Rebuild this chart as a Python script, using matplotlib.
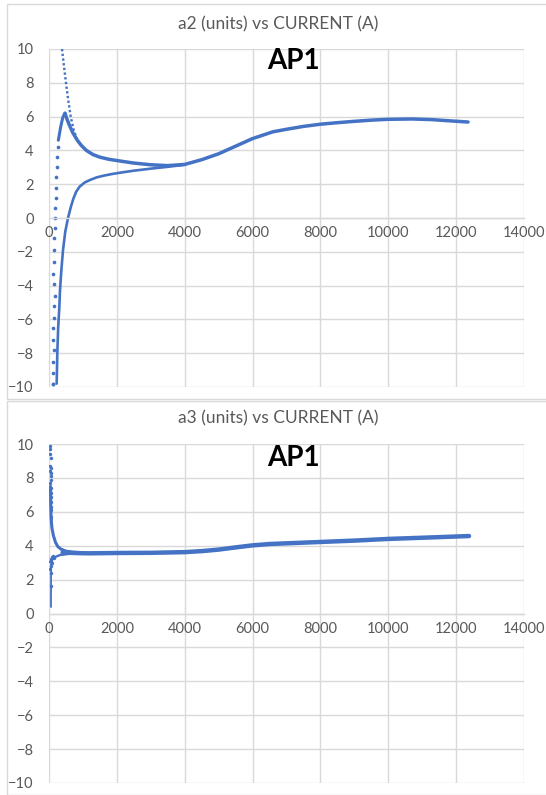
#!/usr/bin/env python3
"""
a2 / a3 vs CURRENT scatter charts (Excel-style) for AP1
"""

import numpy as np
import matplotlib
matplotlib.use("Agg")
import matplotlib.pyplot as plt
from matplotlib.patches import Rectangle

# ---- a2 data ----
# main dense curve, from the peak to the right end
a2_main_x = [472, 520, 600, 700, 835, 950, 1100, 1300, 1500, 1750, 2000, 2500, 3000,
             3500, 4000, 4500, 5000, 5500, 6000, 6600, 7000, 7500, 8000, 8500, 9000,
             9500, 10000, 10700, 11300, 11800, 12350]
a2_main_y = [6.2, 5.9, 5.5, 5.05, 4.6, 4.3, 4.0, 3.75, 3.6, 3.48, 3.4, 3.25, 3.15,
             3.1, 3.17, 3.45, 3.8, 4.25, 4.7, 5.1, 5.25, 5.42, 5.55, 5.64, 5.72,
             5.79, 5.84, 5.86, 5.82, 5.75, 5.68]
# rising side of the peak
a2_peak_x = [275, 310, 345, 400, 440, 472]
a2_peak_y = [4.6, 5.0, 5.4, 5.9, 6.1, 6.2]
# lower branch coming up from -10
a2_low_x = [226, 245, 270, 304, 324, 360, 413, 480, 560, 650, 720, 800, 900, 1050,
            1208, 1400, 1600, 1850, 2093, 2500, 3000, 3500, 4000]
a2_low_y = [-9.8, -8.0, -6.5, -5.3, -4.3, -3.2, -1.9, -0.8, 0.0, 0.7, 1.15, 1.55,
            1.85, 2.1, 2.25, 2.4, 2.5, 2.6, 2.68, 2.8, 2.92, 3.03, 3.15]
# sparse upper branch coming down from 10
a2_up_x = [383, 440, 500, 565, 640, 730, 835]
a2_up_y = [10.0, 9.0, 8.0, 7.0, 6.0, 5.2, 4.6]
# scattered points going down on the far left
a2_dots_x = [260, 240, 225, 212, 200, 192, 185, 178, 170, 160, 147, 140, 127, 160,
             177, 135, 147, 120, 127, 140, 115, 109, 127, 118]
a2_dots_y = [4.2, 3.6, 3.0, 2.4, 1.8, 1.2, 0.6, 0.0, -0.6, -1.2, -1.9, -2.6, -3.3,
             -3.9, -4.6, -5.2, -5.9, -6.5, -7.2, -7.8, -8.5, -9.2, -9.8, -9.8]

# ---- a3 data ----
a3_main_x = [400, 600, 900, 1200, 1600, 2000, 3000, 4000, 4500, 5000, 5500, 6000,
             6500, 7000, 8000, 9000, 10000, 11000, 12380]
a3_main_y = [3.6, 3.58, 3.56, 3.55, 3.56, 3.57, 3.58, 3.62, 3.68, 3.77, 3.9, 4.02,
             4.1, 4.14, 4.22, 4.3, 4.4, 4.47, 4.57]
a3_down_x = [45, 50, 60, 75, 90, 130, 190, 260, 350, 500, 700, 1000]
a3_down_y = [7.5, 6.5, 5.8, 5.3, 5.0, 4.6, 4.2, 3.95, 3.8, 3.68, 3.62, 3.58]
a3_rise_x = [30, 100, 177, 324, 600, 1000]
a3_rise_y = [3.04, 3.2, 3.33, 3.45, 3.52, 3.55]
a3_vert_x = [59, 60, 61, 62]
a3_vert_y = [0.4, 1.3, 2.2, 3.0]
a3_dots_x = [35, 42, 38, 45, 40, 48, 44, 52, 46, 55, 42, 50, 58, 47, 53, 60, 49, 56,
             40, 62, 70, 85, 100, 120, 150, 75, 95, 60, 52, 66]
a3_dots_y = [9.9, 9.7, 9.4, 9.2, 8.7, 8.6, 8.4, 8.3, 8.1, 7.9, 7.7, 7.4, 7.1, 6.9,
             6.6, 6.3, 6.1, 5.7, 2.6, 2.8, 3.1, 3.3, 3.35, 3.4, 3.3, 3.0, 3.25, 2.4,
             1.6, 3.2]

BLUE = "#4472C4"
GRID = "#D9D9D9"
TXT = "#595959"
FONT = ["Lato", "DejaVu Sans"]


def style_axes(ax):
    ax.set_xlim(0, 14000)
    ax.set_ylim(-10, 10)
    ax.set_xticks(np.arange(0, 14001, 2000))
    ax.set_yticks(np.arange(-10, 11, 2))
    ax.grid(True, color=GRID, linewidth=1)
    ax.set_axisbelow(True)
    for s in ["top", "right", "left"]:
        ax.spines[s].set_visible(False)
    ax.spines["bottom"].set_position(("data", 0))
    ax.spines["bottom"].set_color(GRID)
    ax.spines["bottom"].set_linewidth(1)
    ax.tick_params(axis="both", length=0, labelsize=10.5, labelcolor=TXT)
    ax.tick_params(axis="y", pad=11)
    ax.tick_params(axis="x", pad=6)
    for lab in ax.get_xticklabels() + ax.get_yticklabels():
        lab.set_fontfamily(FONT)


fig = plt.figure(figsize=(5.46, 7.95), dpi=100)

# chart area borders
for y0, h in [(1 - 399 / 795, 395 / 795), (0.0, 1 - 401 / 795)]:
    fig.patches.append(Rectangle((7 / 546, y0), 1.0, h, transform=fig.transFigure,
                                 fill=False, edgecolor=GRID, linewidth=1))

ax1 = fig.add_axes([49 / 546, 1 - 387 / 795, 475 / 546, 338 / 795])
ax2 = fig.add_axes([49 / 546, 1 - 783 / 795, 475 / 546, 339 / 795])

# a2
style_axes(ax1)
ax1.plot(a2_main_x, a2_main_y, color=BLUE, linewidth=2.5, solid_capstyle="round")
ax1.plot(a2_peak_x, a2_peak_y, color=BLUE, linewidth=2.2, solid_capstyle="round")
ax1.plot(a2_low_x, a2_low_y, color=BLUE, linewidth=1.9, solid_capstyle="round")
ax1.plot(a2_up_x, a2_up_y, color=BLUE, linewidth=1.7, linestyle=(0, (1, 1)))
ax1.scatter(a2_dots_x, a2_dots_y, s=7, color=BLUE, linewidths=0)
ax1.text(0.459, 0.964, "AP1", transform=ax1.transAxes, ha="left", va="center",
         fontsize=20, fontweight="bold", color="black", family=FONT)
fig.text(0.51, 1 - 24 / 795, "a2 (units) vs CURRENT (A)", ha="center", va="center",
         fontsize=12.5, color=TXT, family=FONT)

# a3
style_axes(ax2)
ax2.plot(a3_main_x, a3_main_y, color=BLUE, linewidth=3.2, solid_capstyle="round")
ax2.plot(a3_down_x, a3_down_y, color=BLUE, linewidth=2.2, solid_capstyle="round")
ax2.plot(a3_rise_x, a3_rise_y, color=BLUE, linewidth=1.7, solid_capstyle="round")
ax2.plot(a3_vert_x, a3_vert_y, color=BLUE, linewidth=1.3)
ax2.scatter(a3_dots_x, a3_dots_y, s=6, color=BLUE, linewidths=0)
ax2.text(0.459, 0.959, "AP1", transform=ax2.transAxes, ha="left", va="center",
         fontsize=20, fontweight="bold", color="black", family=FONT)
fig.text(0.51, 1 - 418 / 795, "a3 (units) vs CURRENT (A)", ha="center", va="center",
         fontsize=12.5, color=TXT, family=FONT)

fig.savefig("out.png", dpi=100)
